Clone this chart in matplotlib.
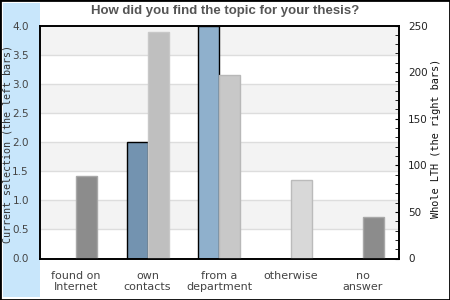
import numpy as np
import matplotlib.pyplot as plt
from matplotlib.patches import Rectangle

categories = ['found on\nInternet', 'own\ncontacts', 'from a\ndepartment', 'otherwise', 'no\nanswer']
current = [0, 2.0, 4.0, 0, 0]          # left bars
whole_lth = [88, 243, 197, 84, 45]     # right bars

left_colors = ['#7393b0', '#7393b0', '#8fb0cc', '#8fb0cc', '#8fb0cc']
right_colors = ['#8c8c8c', '#bfbfbf', '#c8c8c8', '#d8d8d8', '#8c8c8c']
right_edges = ['#a8a8a8', '#c8c8c8', '#b8b8b8', '#bbbbbb', '#a8a8a8']

fig = plt.figure(figsize=(4.5, 3), dpi=100)

# blue band behind the left axis + outer frame
fig.patches.append(Rectangle((3/450, 3/300), 37/450, 294/300, transform=fig.transFigure,
                             facecolor='#c8e6fb', edgecolor='none', zorder=-1))
fig.patches.append(Rectangle((0, 0), 1, 1, transform=fig.transFigure,
                             facecolor='none', edgecolor='black', linewidth=2, zorder=5))

ax = fig.add_axes([40/450, 1 - 258.5/300, 358.5/450, 233/300])
ax2 = ax.twinx()

x = np.arange(len(categories))
w = 0.293

# background stripes
for lo in np.arange(0, 4, 0.5):
    if int(lo / 0.5) % 2 == 1:
        ax.axhspan(lo, lo + 0.5, color='#f3f3f3', zorder=0, lw=0)
for yv in np.arange(0.5, 4, 0.5):
    ax.axhline(yv, color='#dddddd', lw=1, zorder=0.5)

ax.bar(x - w/2, current, w, color=left_colors, edgecolor='black', linewidth=1, zorder=2)
ax2.bar(x + w/2, whole_lth, w, color=right_colors, edgecolor=right_edges, linewidth=1, zorder=2)

ax.set_xlim(-0.5, 4.5)
ax.set_ylim(0, 4)
ax2.set_ylim(0, 250)

ax.set_yticks(np.arange(0, 4.01, 0.5))
ax.set_yticklabels(['%.1f' % v for v in np.arange(0, 4.01, 0.5)])
ax.tick_params(axis='y', length=0, pad=8, labelsize=7.5, labelcolor='#444444')
ax.set_xticks(x)
ax.set_xticklabels(categories, fontsize=8, color='#444444', linespacing=1.1)
ax.tick_params(axis='x', length=0, pad=9)

ax2.set_yticks(range(0, 251, 50))
ax2.set_yticks(range(0, 251, 10), minor=True)
ax2.tick_params(axis='y', which='both', direction='in', length=3, pad=7,
                labelsize=7.5, labelcolor='#222222')

ax.set_ylabel('Current selection (the left bars)', family='DejaVu Sans Mono',
              fontsize=7.2, color='#333333')
ax.yaxis.set_label_coords(-27.5/358.5, 0.49)
ax2.set_ylabel('Whole LTH (the right bars)', family='DejaVu Sans Mono',
               fontsize=7.4, color='#111111')
ax2.yaxis.set_label_coords(1 + 32.5/358.5, 0.515)

for a in (ax, ax2):
    for s in a.spines.values():
        s.set_linewidth(1.2)
ax.set_facecolor('white')

fig.text(0.5, 0.962, 'How did you find the topic for your thesis?', ha='center', va='center',
         fontsize=9.5, fontweight='bold', color='#555555', family='Liberation Sans')

plt.savefig('out.png', dpi=100)
